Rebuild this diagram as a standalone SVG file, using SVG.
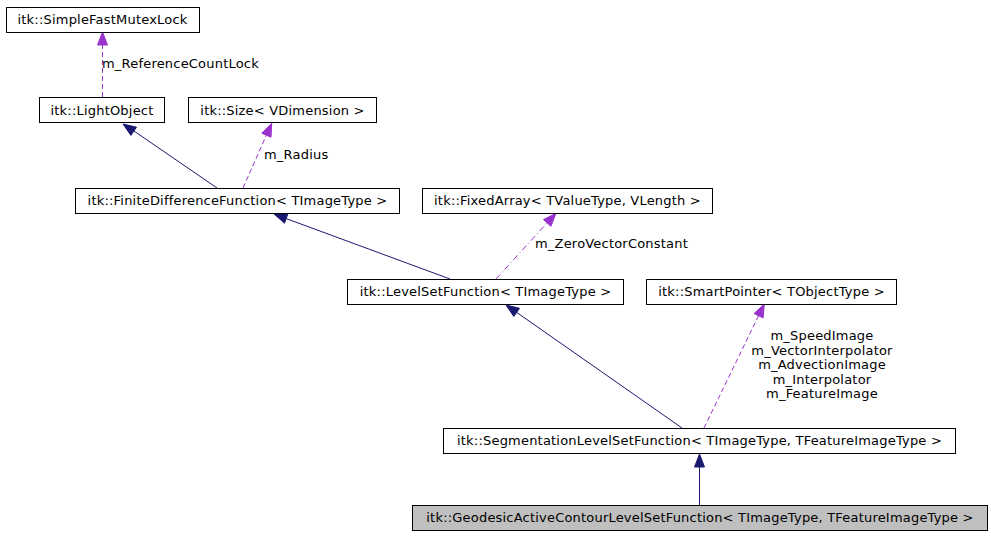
<svg xmlns="http://www.w3.org/2000/svg" width="991" height="536" viewBox="0 0 991 536">
<style>
  .box { fill: #ffffff; stroke: #000000; stroke-width: 1; }
  .cur { fill: #bfbfbf; stroke: #000000; stroke-width: 1; }
  text { font-family: "DejaVu Sans", "Liberation Sans", sans-serif; font-size: 13px; letter-spacing: 0.2px; fill: #000000; }
  .c { text-anchor: middle; }
  .inh { stroke: #191970; stroke-width: 1; fill: none; }
  .inhh { fill: #191970; stroke: #191970; }
  .use { stroke: #9a32cd; stroke-width: 1; fill: none; stroke-dasharray: 5,3; }
  .usedot { stroke: #9a32cd; stroke-width: 1; fill: none; stroke-dasharray: 6,3,1,3; }
  .useh { fill: #9a32cd; stroke: #9a32cd; }
</style>
<rect width="991" height="536" fill="#ffffff"/>
<g id="connectors">
  <line class="use" x1="102.5" y1="97" x2="102.5" y2="45"/>
  <polygon class="useh" points="102.5,32 97.5,45 107.5,45"/>
  <text x="102" y="68">m_ReferenceCountLock</text>

  <line class="inh" x1="217" y1="188" x2="134" y2="131"/>
  <polygon class="inhh" points="123,124 136.5,127.2 130.9,135.4"/>

  <line class="use" x1="243" y1="188" x2="266.5" y2="135"/>
  <polygon class="useh" points="271.7,123.3 271,137.2 261.8,133.2"/>
  <text x="264" y="159">m_Radius</text>

  <line class="inh" x1="450" y1="279" x2="286" y2="218.5"/>
  <polygon class="inhh" points="274,214 287.9,213.8 284.5,223.2"/>

  <line class="usedot" x1="496" y1="279" x2="547" y2="223"/>
  <polygon class="useh" points="556,213.3 550.9,226.3 543.5,219.6"/>
  <text x="535" y="248">m_ZeroVectorConstant</text>

  <line class="inh" x1="682" y1="428" x2="516.7" y2="312.4"/>
  <polygon class="inhh" points="506,305 519.5,308.3 513.8,316.5"/>

  <line class="use" x1="704" y1="428" x2="758.6" y2="315.7"/>
  <polygon class="useh" points="764.3,304 763.1,317.9 754.1,313.5"/>
  <text class="c" x="822" y="340">m_SpeedImage</text>
  <text class="c" x="822" y="355">m_VectorInterpolator</text>
  <text class="c" x="822" y="369">m_AdvectionImage</text>
  <text class="c" x="822" y="384">m_Interpolator</text>
  <text class="c" x="822" y="398">m_FeatureImage</text>

  <line class="inh" x1="699.5" y1="505" x2="699.5" y2="467"/>
  <polygon class="inhh" points="699.5,454 694.5,467 704.5,467"/>
</g>
<g id="node-mutex">
  <rect class="box" x="6.5" y="7.5" width="193" height="25"/>
  <text class="c" x="102.5" y="24">itk::SimpleFastMutexLock</text>
</g>
<g id="node-lightobject">
  <rect class="box" x="39.5" y="97.5" width="125" height="25"/>
  <text class="c" x="102" y="114.5">itk::LightObject</text>
</g>
<g id="node-size">
  <rect class="box" x="188.5" y="97.5" width="188" height="25"/>
  <text class="c" x="282.5" y="114.5">itk::Size&lt; VDimension &gt;</text>
</g>
<g id="node-fdf">
  <rect class="box" x="75.5" y="188.5" width="324" height="25"/>
  <text class="c" x="237.5" y="205">itk::FiniteDifferenceFunction&lt; TImageType &gt;</text>
</g>
<g id="node-fixedarray">
  <rect class="box" x="422.5" y="188.5" width="290" height="25"/>
  <text class="c" x="567.5" y="205">itk::FixedArray&lt; TValueType, VLength &gt;</text>
</g>
<g id="node-levelset">
  <rect class="box" x="347.5" y="279.5" width="276" height="25"/>
  <text class="c" x="485.5" y="296">itk::LevelSetFunction&lt; TImageType &gt;</text>
</g>
<g id="node-smartpointer">
  <rect class="box" x="646.5" y="279.5" width="250" height="25"/>
  <text class="c" x="771.5" y="296">itk::SmartPointer&lt; TObjectType &gt;</text>
</g>
<g id="node-segmentation">
  <rect class="box" x="443.5" y="428.5" width="512" height="25"/>
  <text class="c" x="699.5" y="445">itk::SegmentationLevelSetFunction&lt; TImageType, TFeatureImageType &gt;</text>
</g>
<g id="node-geodesic">
  <rect class="cur" x="412.5" y="505.5" width="575" height="25"/>
  <text class="c" x="700" y="522">itk::GeodesicActiveContourLevelSetFunction&lt; TImageType, TFeatureImageType &gt;</text>
</g>
</svg>
